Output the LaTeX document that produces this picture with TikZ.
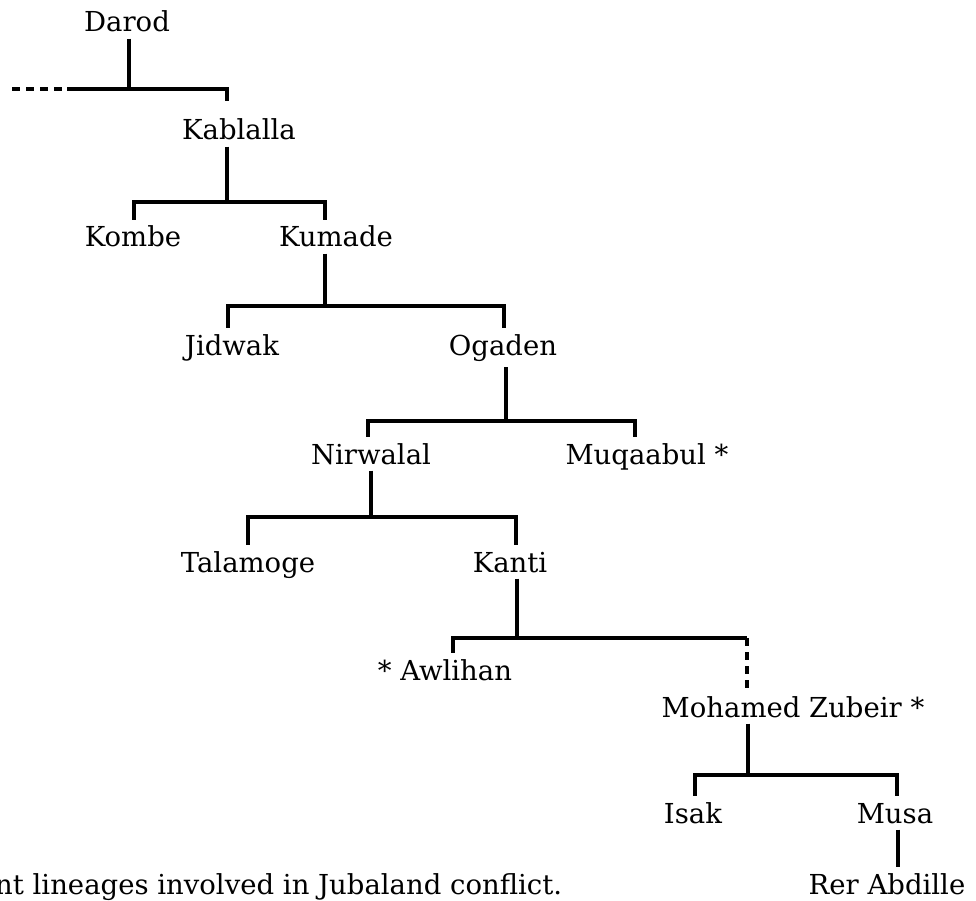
\documentclass[tikz,border=0pt]{standalone}
\usepackage{fontspec}
\setmainfont{DejaVu Serif}
\begin{document}
\begin{tikzpicture}[x=1pt,y=-1pt,
  clan/.style={anchor=base,inner xsep=0pt,inner ysep=6pt,text height=21pt,font=\fontsize{27.5}{33}\selectfont},
  link/.style={line width=3.4pt},
  dashlink/.style={link,dash pattern=on 8pt off 6pt}]
\useasboundingbox (0,0) rectangle (976,901);

\node[clan] (darod) at (127,32) {Darod};
\node[clan] (kablalla) at (239,140) {Kablalla};
\node[clan] (kombe) at (133,247) {Kombe};
\node[clan] (kumade) at (336,247) {Kumade};
\node[clan] (jidwak) at (232,355) {Jidwak};
\node[clan] (ogaden) at (503,355) {Ogaden};
\node[clan] (nirwalal) at (371,464) {Nirwalal};
\node[clan] (muqaabul) at (647,464) {Muqaabul *};
\node[clan] (talamoge) at (248,572) {Talamoge};
\node[clan] (kanti) at (510,572) {Kanti};
\node[clan] (awlihan) at (445,680) {* Awlihan};
\node[clan] (mohamed) at (793,717) {Mohamed Zubeir *};
\node[clan] (isak) at (693,823) {Isak};
\node[clan] (musa) at (895,823) {Musa};
\node[clan] (rerabdille) at (887,894) {Rer Abdille};
\node[clan,anchor=base west] (caption) at (-5,894) {nt lineages involved in Jubaland conflict.};

\coordinate (dashend) at (12,89);
\draw[dashlink] (dashend) -- (67,89);
\draw[link] (67,89) -| ([yshift=12pt]kablalla.north -| 227,0);
\draw[link] (darod.south -| 129,0) -- (129,89);

\draw[link] (kablalla.south -| 227,0) -- (227,202);
\draw[link] (kombe.north -| 134,0) |- (325,202) -- (kumade.north -| 325,0);

\draw[link] (kumade.south -| 325,0) -- (325,306);
\draw[link] (jidwak.north -| 228,0) |- (504,306) -- (ogaden.north -| 504,0);

\draw[link] (ogaden.south -| 506,0) -- (506,421);
\draw[link] (nirwalal.north -| 368,0) |- (635,421) -- (muqaabul.north -| 635,0);

\draw[link] (nirwalal.south -| 371,0) -- (371,517);
\draw[link] (talamoge.north -| 248,0) |- (516,517) -- (kanti.north -| 516,0);

\draw[link] (kanti.south -| 517,0) -- (517,638);
\draw[link] (awlihan.north -| 453,0) |- (747,638);
\draw[dashlink] (747,638) -- (mohamed.north -| 747,0);

\draw[link] (mohamed.south -| 748,0) -- (748,775);
\draw[link] (isak.north -| 695,0) |- (897,775) -- (musa.north -| 897,0);
\draw[link] (musa.south -| 898,0) -- (rerabdille.north -| 898,0);
\end{tikzpicture}
\end{document}
